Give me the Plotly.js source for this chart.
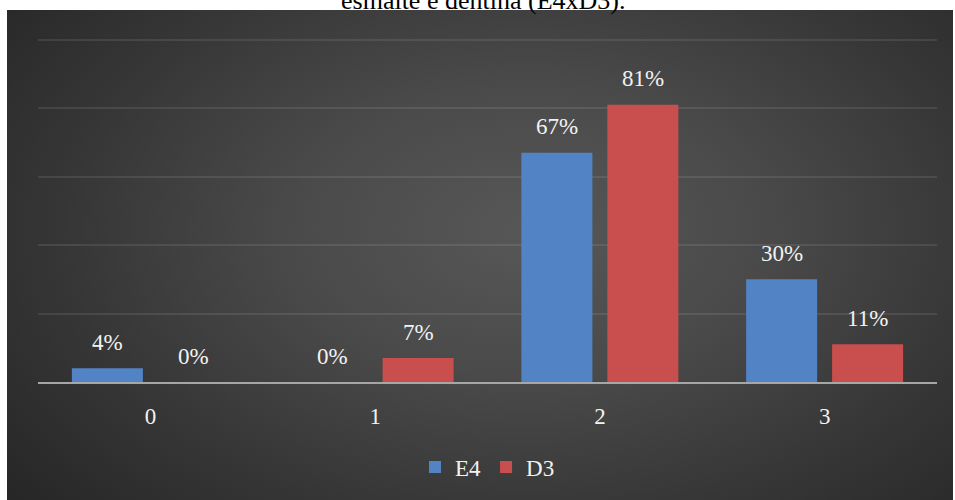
<!DOCTYPE html>
<html>
<head>
<meta charset="utf-8">
<script src="https://cdn.plot.ly/plotly-3.0.1.min.js"></script>
<style>
  html, body { margin: 0; padding: 0; background: #ffffff; }
  #wrap { position: relative; width: 955px; height: 500px; }
  #panel {
    position: absolute; left: 7px; top: 10px; width: 946px; height: 490px;
    background: radial-gradient(ellipse 70% 85% at 55% 45%, #575757 0%, #4a4a4a 35%, #363636 70%, #272727 100%);
  }
  #chart { position: absolute; left: 0; top: 0; width: 955px; height: 500px; }
</style>
</head>
<body>
<div id="wrap">
  <div id="panel"></div>
  <div id="chart"></div>
</div>
<script>
// Scores on the x axis, share of samples per group
const categories = ['0', '1', '2', '3'];
const seriesNames = ['E4', 'D3'];
const e4Values = [0.04, 0.00, 0.67, 0.30];
const d3Values = [0.00, 0.07, 0.81, 0.11];
const gridValues = [0.2, 0.4, 0.6, 0.8, 1.0];
const titleText = 'esmalte e dentina (E4xD3).';

const serif = 'Liberation Serif';
const labelColor = '#f2f2f2';
const series = [
  { name: seriesNames[0], values: e4Values, color: '#5283c4', shift: -43 },
  { name: seriesNames[1], values: d3Values, color: '#c84f4d', shift: 43 }
];

const traces = series.map(s => ({
  type: 'bar',
  name: s.name,
  x: categories,
  y: s.values,
  marker: { color: s.color, line: { width: 0 } },
  hoverinfo: 'skip'
}));

// Percentage labels above each bar
const annotations = [];
series.forEach(s => {
  s.values.forEach((v, i) => {
    annotations.push({
      x: categories[i], y: v, xref: 'x', yref: 'y',
      text: Math.round(v * 100) + '%',
      showarrow: false,
      xshift: s.shift, yshift: 26,
      xanchor: 'center', yanchor: 'middle',
      font: { family: serif, size: 23, color: labelColor }
    });
  });
});

const layout = {
  width: 955, height: 500,
  paper_bgcolor: 'rgba(0,0,0,0)',
  plot_bgcolor: 'rgba(0,0,0,0)',
  font: { family: serif },
  margin: { l: 37.5, r: 17.5, t: 33.2, b: 118 },
  title: {
    text: titleText,
    font: { family: serif, size: 26, color: '#000000' },
    x: 0.506, xanchor: 'center',
    y: 1.0, yref: 'container', yanchor: 'middle'
  },
  barmode: 'group',
  bargap: 0.235,
  bargroupgap: 0.174,
  xaxis: {
    type: 'category',
    showgrid: false,
    showline: true, linecolor: '#a6a6a6', linewidth: 2,
    ticks: '',
    ticklabelstandoff: 12,
    tickfont: { family: serif, size: 23, color: labelColor },
    zeroline: false
  },
  yaxis: {
    range: [0, 1.02],
    tickvals: gridValues,
    showgrid: true, gridcolor: 'rgba(255,255,255,0.09)', gridwidth: 2,
    showticklabels: false,
    zeroline: false,
    showline: false,
    fixedrange: true
  },
  showlegend: true,
  legend: {
    orientation: 'h',
    x: 0.5, xanchor: 'center',
    y: 0.066, yref: 'container', yanchor: 'middle',
    font: { family: serif, size: 23, color: labelColor },
    bgcolor: 'rgba(0,0,0,0)',
    itemwidth: 30,
    traceorder: 'normal'
  },
  annotations: annotations
};

Plotly.newPlot('chart', traces, layout, { displayModeBar: false, staticPlot: true });
</script>
</body>
</html>
